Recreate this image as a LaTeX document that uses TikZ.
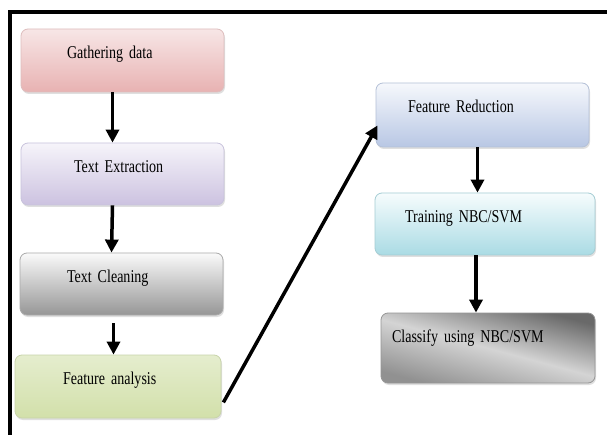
\documentclass[tikz,border=0pt]{standalone}
\usepackage{fontspec}
\newfontfamily\boxfont[FakeStretch=0.78]{Liberation Serif}
\newcommand\boxtextfont{\fontsize{18pt}{20pt}\boxfont\spaceskip=3pt plus 1pt minus 1pt\relax}
\usetikzlibrary{shapes, arrows.meta, shadows}

\definecolor{gdtop}{RGB}{247,230,230}
\definecolor{gdbot}{RGB}{232,178,178}
\definecolor{gdline}{RGB}{222,190,190}
\definecolor{tetop}{RGB}{246,244,250}
\definecolor{tebot}{RGB}{204,194,224}
\definecolor{teline}{RGB}{200,195,220}
\definecolor{tctop}{RGB}{250,250,250}
\definecolor{tcbot}{RGB}{150,150,150}
\definecolor{tcline}{RGB}{170,170,170}
\definecolor{fatop}{RGB}{229,237,206}
\definecolor{fabot}{RGB}{210,224,170}
\definecolor{faline}{RGB}{200,212,170}
\definecolor{frtop}{RGB}{246,248,252}
\definecolor{frbot}{RGB}{184,199,228}
\definecolor{frline}{RGB}{180,192,215}
\definecolor{trtop}{RGB}{246,252,253}
\definecolor{trbot}{RGB}{170,219,228}
\definecolor{trline}{RGB}{165,205,212}
\definecolor{cldark}{RGB}{105,105,105}
\definecolor{clmid}{RGB}{145,145,145}
\definecolor{cllight}{RGB}{212,212,212}
\definecolor{clline}{RGB}{150,150,150}

\begin{document}
\begin{tikzpicture}[x=1pt, y=-1pt]

\fill[white] (0,0) rectangle (607,435);
\useasboundingbox (0,0) rectangle (607,435);
\draw[line width=4pt] (10,435) -- (10,12.5) -- (607,12.5);

\begin{scope}[every node/.style={shape=rectangle, rounded corners=7pt,
    draw, align=left, inner ysep=0pt, text height=29.5pt, line width=0.8pt,
    font=\boxtextfont,
    drop shadow={shadow xshift=1pt, shadow yshift=-2pt, opacity=0.25}}]
    \node[top color=gdtop, bottom color=gdbot, draw=gdline, inner xsep=46pt, text width=111pt, text depth=33.5pt] (gd) at (122.5,60.5) {Gathering data};
    \node[top color=tetop, bottom color=tebot, draw=teline, inner xsep=53pt, text width=97pt, text depth=32.5pt] (te) at (122.5,174) {Text Extraction};
    \node[top color=tctop, bottom color=tcbot, draw=tcline, inner xsep=47pt, text width=109pt, text depth=32.5pt] (tc) at (121.5,284) {Text Cleaning};
    \node[top color=fatop, bottom color=fabot, draw=faline, inner xsep=48pt, text width=110pt, text depth=33.5pt] (fa) at (118,386.5) {Feature analysis};
    \node[top color=frtop, bottom color=frbot, draw=frline, inner xsep=32pt, text width=149pt, text depth=34.5pt] (fr) at (482.5,115) {Feature Reduction};
    \node[top color=trtop, bottom color=trbot, draw=trline, inner xsep=30pt, text width=160pt, text depth=32.5pt] (tr) at (485,224) {Training NBC/SVM};
    \node[shading=axis, top color=cldark, bottom color=clmid, middle color=cllight, shading angle=-15, draw=clline, inner xsep=11pt, text width=192pt, text depth=40.5pt] (cl) at (488,348) {Classify using NBC/SVM};
\end{scope}

\begin{scope}[every edge/.style={draw, line width=3.5pt, -{Triangle[length=13pt,width=13pt]}}]
    \path ([xshift=-10pt]gd.south) edge ([xshift=-10pt]te.north);
    \path ([xshift=-10pt]te.south) edge ([xshift=-10pt]tc.north);
    \path ([xshift=-8pt]tc.south) edge[shorten <=8pt] ([xshift=-8pt]tc.south |- fa.north);
    \path ([xshift=2pt,yshift=16pt]fa.south east) edge ([xshift=2pt,yshift=22pt]fr.south west);
    \path ([xshift=-5pt]fr.south) edge ([xshift=-5pt]fr.south |- tr.north);
    \path ([xshift=-9pt]tr.south) edge ([xshift=-9pt]tr.south |- cl.north);
\end{scope}
\end{tikzpicture}
\end{document}
